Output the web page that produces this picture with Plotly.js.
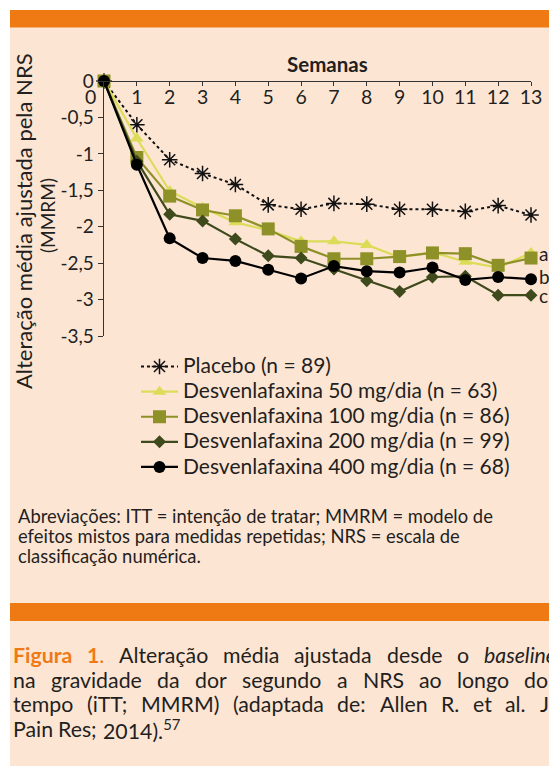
<!DOCTYPE html>
<html><head><meta charset="utf-8">
<script src="https://cdn.plot.ly/plotly-3.0.1.min.js"></script>
<style>html,body{margin:0;padding:0;background:#fff}</style>
</head><body><div id="chart" style="width:549px;height:766px"></div>
<script>
// ---- data ----
const weeks = [0,1,2,3,4,5,6,7,8,9,10,11,12,13];
const placebo = [0,-0.60,-1.08,-1.27,-1.42,-1.70,-1.76,-1.68,-1.69,-1.76,-1.76,-1.79,-1.71,-1.84];
const dvs50  = [0,-0.79,-1.51,-1.74,-1.94,-2.05,-2.20,-2.20,-2.25,-2.42,-2.35,-2.48,-2.56,-2.36];
const dvs100 = [0,-1.05,-1.58,-1.77,-1.85,-2.03,-2.27,-2.44,-2.44,-2.41,-2.36,-2.37,-2.53,-2.43];
const dvs200 = [0,-1.10,-1.83,-1.92,-2.17,-2.40,-2.43,-2.58,-2.74,-2.89,-2.69,-2.68,-2.94,-2.94];
const dvs400 = [0,-1.15,-2.16,-2.43,-2.47,-2.59,-2.71,-2.54,-2.61,-2.63,-2.56,-2.73,-2.69,-2.72];
const seriesNames = ['Placebo (n = 89)','Desvenlafaxina 50 mg/dia (n = 63)','Desvenlafaxina 100 mg/dia (n = 86)','Desvenlafaxina 200 mg/dia (n = 99)','Desvenlafaxina 400 mg/dia (n = 68)'];
const xTickVals = [1,2,3,4,5,6,7,8,9,10,11,12,13];
const xTickText = ['1','2','3','4','5','6','7','8','9','10','11','12','13'];
const yTickVals = [0,-0.5,-1,-1.5,-2,-2.5,-3,-3.5];
const yTickText = ['0','-0,5','-1','-1,5','-2','-2,5','-3','-3,5'];

// ---- layout helpers ----
const W=549,H=766,ML=104,MR=18,MT=81,MB=430;
const PW=W-ML-MR, PH=H-MT-MB;
const px = x => (x-ML)/PW;
const py = y => (H-MB-y)/PH;
const FONT = 'Lato, "Open Sans", sans-serif';
const TXT = '#231f20';
const ORANGE = '#ef7a14';
const PEACH = '#fde5d4';
const LEG = n => '<span style="font-size:21px">'+n+'</span>';

const traces = [
 {x:weeks,y:placebo,name:LEG(seriesNames[0]),mode:'lines+markers',line:{color:'#111',width:2,dash:'dot'},
  marker:{symbol:'asterisk-open',size:13,color:'#111',line:{color:'#111',width:1.5}},cliponaxis:false},
 {x:weeks,y:dvs50,name:LEG(seriesNames[1]),mode:'lines+markers',line:{color:'#dcdc58',width:2.2},
  marker:{symbol:'triangle-up',size:12,color:'#dcdc58'},cliponaxis:false},
 {x:weeks,y:dvs100,name:LEG(seriesNames[2]),mode:'lines+markers',line:{color:'#8e9127',width:2.2},
  marker:{symbol:'square',size:13,color:'#8e9127'},cliponaxis:false},
 {x:weeks,y:dvs200,name:LEG(seriesNames[3]),mode:'lines+markers',line:{color:'#3e4a1c',width:2.2},
  marker:{symbol:'diamond',size:10,color:'#3e4a1c'},cliponaxis:false},
 {x:weeks,y:dvs400,name:LEG(seriesNames[4]),mode:'lines+markers',line:{color:'#000',width:2.2},
  marker:{symbol:'circle',size:12,color:'#000'},cliponaxis:false}
];

const shapes = [
 {type:'rect',xref:'paper',yref:'paper',x0:px(10),x1:px(549),y0:py(766),y1:py(10),fillcolor:PEACH,line:{width:0},layer:'below'},
 {type:'rect',xref:'paper',yref:'paper',x0:px(10),x1:px(549),y0:py(27.5),y1:py(10),fillcolor:ORANGE,line:{width:0},layer:'below'},
 {type:'rect',xref:'paper',yref:'paper',x0:px(10),x1:px(549),y0:py(621),y1:py(603),fillcolor:ORANGE,line:{width:0},layer:'below'}
];

const ann = [];
function A(o){ann.push(Object.assign({xref:'paper',yref:'paper',showarrow:false,font:{family:FONT,size:18,color:TXT}},o));}
A({x:px(327),y:py(64),text:'<b>Semanas</b>',xanchor:'center',yanchor:'middle',font:{family:FONT,size:20.5,color:TXT}});
A({x:px(90),y:py(96),text:'0',xanchor:'center',yanchor:'middle',font:{family:FONT,size:19.5,color:TXT}});
A({x:px(23),y:py(221),text:'Alteração média ajustada pela NRS',textangle:-90,xanchor:'center',yanchor:'middle',font:{family:FONT,size:22,color:TXT}});
A({x:px(47),y:py(215),text:'(MMRM)',textangle:-90,xanchor:'center',yanchor:'middle',font:{family:FONT,size:19,color:TXT}});
A({x:px(537),y:py(253),text:'a',xanchor:'left',yanchor:'middle',font:{family:FONT,size:19,color:TXT}});
A({x:px(537),y:py(276),text:'b',xanchor:'left',yanchor:'middle',font:{family:FONT,size:19,color:TXT}});
A({x:px(537),y:py(295),text:'c',xanchor:'left',yanchor:'middle',font:{family:FONT,size:19,color:TXT}});
const abbr = ['Abreviações: ITT = intenção de tratar; MMRM = modelo de','efeitos mistos para medidas repetidas; NRS = escala de','classificação numérica.'];
abbr.forEach((t,i)=>A({x:px(16),y:py(516+i*20),text:t,xanchor:'left',yanchor:'middle',font:{family:FONT,size:18.4,color:TXT}}));

// justified caption
const CAP = 21.3;
const capLines = [
 [{t:'Figura',b:1,c:ORANGE},{t:'1',b:1,c:ORANGE,tail:'.'},{t:'Alteração'},{t:'média'},{t:'ajustada'},{t:'desde'},{t:'o'},{t:'baseline',i:1}],
 'na gravidade da dor segundo a NRS ao longo do'.split(' ').map(t=>({t})),
 'tempo (iTT; MMRM) (adaptada de: Allen R. et al. J'.split(' ').map(t=>({t})),
 [{t:'Pain'},{t:'Res;'},{t:'2014).',sup:'57'}]
];
const cv=document.createElement('canvas').getContext('2d');
function fontStr(w){return (w.i?'italic ':'')+(w.b?'bold ':'')+CAP+'px Lato';}
function measure(w){cv.font=fontStr(w);let m=cv.measureText(w.t).width;if(w.tail){cv.font=CAP+'px Lato';m+=cv.measureText(w.tail).width;}return m;}
const L0=13, RIGHT=[556,548.5,548.5,0];
capLines.forEach((line,li)=>{
  const ws=line.map(measure);
  const tot=ws.reduce((a,b)=>a+b,0);
  cv.font=CAP+'px Lato';
  const sp=cv.measureText(' ').width;
  let gap = li<3 ? Math.max(sp,(RIGHT[li]-L0-tot)/(line.length-1)) : sp;
  let x=L0;
  line.forEach((w,k)=>{
    let txt=w.t;
    if(w.b) txt='<b>'+txt+'</b>';
    if(w.i) txt='<i>'+txt+'</i>';
    if(w.tail) txt+=w.tail;
    if(w.sup) txt+='<sup>'+w.sup+'</sup>';
    A({x:px(x-2),y:py(655+li*24.7),text:txt,xanchor:'left',yanchor:'middle',font:{family:FONT,size:CAP,color:w.c||TXT}});
    x+=ws[k]+gap;
  });
});

const layout = {
 width:W,height:H,margin:{l:ML,r:MR,t:MT,b:MB,pad:0},
 paper_bgcolor:'#ffffff',plot_bgcolor:'rgba(0,0,0,0)',
 font:{family:FONT,size:18,color:TXT},
 showlegend:true,
 legend:{x:px(136),y:py(349),xanchor:'left',yanchor:'top',bgcolor:'rgba(0,0,0,0)',font:{family:FONT,size:17,color:TXT},tracegroupgap:0,itemwidth:37},
 xaxis:{range:[0,13],anchor:'free',position:1,side:'bottom',showline:true,linecolor:'#333',linewidth:1.3,
   ticks:'outside',ticklen:4,tickcolor:'#333',tickvals:xTickVals,ticktext:xTickText,showgrid:false,zeroline:false,
   tickfont:{family:FONT,size:19.5,color:TXT},ticklabelstandoff:-6,fixedrange:true},
 yaxis:{range:[-3.5,0],showline:true,linecolor:'#333',linewidth:1.3,ticks:'outside',ticklen:5,tickcolor:'#333',
   tickvals:yTickVals,ticktext:yTickText,showgrid:false,zeroline:false,tickfont:{family:FONT,size:19,color:TXT},fixedrange:true},
 shapes:shapes,annotations:ann
};
Plotly.newPlot('chart',traces,layout,{displayModeBar:false,staticPlot:true});
</script></body></html>
